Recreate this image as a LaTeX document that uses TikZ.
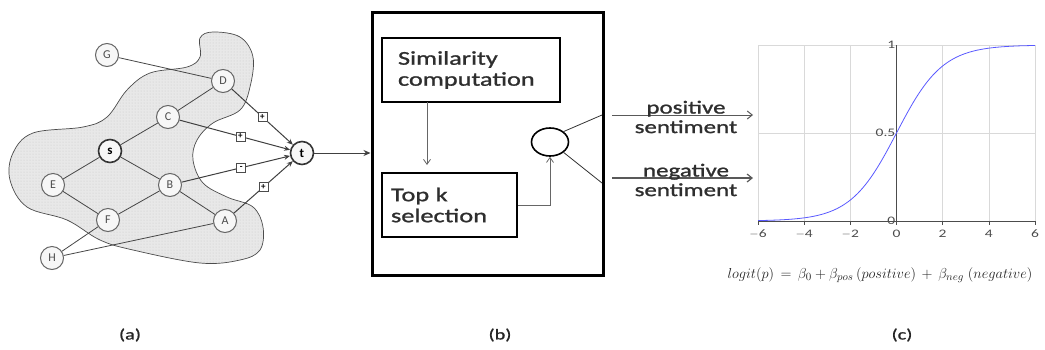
\documentclass[tikz,border=0pt]{standalone}
\usepackage{fontspec}
\setmainfont{Carlito}
\newfontfamily\widesans[FakeStretch=1.35]{Carlito}
\newfontfamily\widebold[FakeStretch=1.35,FakeBold=1.2]{Carlito}
\usetikzlibrary{arrows.meta,patterns,shapes.geometric}

\tikzset{
  vert/.style={circle, draw=gray!80!black, fill=gray!6, minimum size=23pt, inner sep=0pt,
    line width=1pt, font=\fontsize{12}{12}\selectfont, text=gray!60!black},
  keyvert/.style={vert, draw=black!80, line width=1.6pt, text=black, font=\fontsize{13}{13}\selectfont\bfseries},
  edge/.style={draw=gray!55!black, line width=0.8pt},
  toT/.style={draw=black!75, line width=1pt, -{Stealth[length=6pt,width=5pt]}},
  sign/.style={draw=black!70, fill=white, minimum size=9pt, inner sep=0pt, line width=0.6pt,
    font=\fontsize{9}{9}\selectfont\bfseries},
  stage/.style={draw=black, line width=2.6pt, inner sep=0pt, align=left,
    font=\widebold\fontsize{19.5}{21}\selectfont, text=black!82},
  flow/.style={draw=black!60, line width=0.8pt, -{Straight Barb[length=5pt,width=7pt]}},
  senti/.style={align=center, font=\widebold\fontsize{18.5}{19.5}\selectfont, text=black!82},
  grid/.style={draw=gray!30, line width=0.6pt},
  tick/.style={font=\widesans\fontsize{11.5}{11.5}\selectfont, text=black!70},
  caption/.style={font=\widebold\fontsize{15}{15}\selectfont, text=black!85}
}

\begin{document}
\begin{tikzpicture}[x=1pt,y=-1pt]
\useasboundingbox (0,0) rectangle (1045,349);

% ---------- (a) graph over a shaded region ----------
\def\blob{(200,38) (213,32) (240,37) (253,57) (250,87) (240,110) (213,123) (197,140)
  (193,160) (203,183) (227,197) (253,207) (263,227) (260,250) (240,260) (200,263)
  (133,250) (100,240) (67,220) (27,207) (10,180) (13,153) (33,133) (83,127)
  (107,117) (127,90) (150,73) (187,67) (200,57)}
\fill[gray!18] plot[smooth cycle, tension=0.6] coordinates {\blob};
\fill[pattern=dots, pattern color=gray!45] plot[smooth cycle, tension=0.6] coordinates {\blob};
\draw[gray!60!black, line width=0.7pt] plot[smooth cycle, tension=0.6] coordinates {\blob};

\node[vert] (G) at (107,55) {G};
\node[vert] (D) at (223,81) {D};
\node[vert] (C) at (168,117) {C};
\node[keyvert] (s) at (110,151) {s};
\node[vert] (E) at (53,185) {E};
\node[vert] (B) at (170,185) {B};
\node[vert] (F) at (108,220) {F};
\node[vert] (A) at (225,221) {A};
\node[vert] (H) at (52,258) {H};
\node[keyvert] (t) at (302,153) {t};

\draw[edge] (G) -- (D);
\draw[edge] (D) -- (C);
\draw[edge] (C) -- (s);
\draw[edge] (s) -- (E);
\draw[edge] (E) -- (F);
\draw[edge] (F) -- (B);
\draw[edge] (B) -- (s);
\draw[edge] (B) -- (A);
\draw[edge] (F) -- (H);
\draw[edge] (H) -- (A);

\draw[toT] (D) -- node[sign, pos=0.5] {+} (t);
\draw[toT] (C) -- node[sign, pos=0.55] {+} (t);
\draw[toT] (B) -- node[sign, pos=0.55] {-} (t);
\draw[toT] (A) -- node[sign, pos=0.5] {+} (t);

% ---------- (b) processing block ----------
\node[draw=black, line width=3pt, minimum width=231pt, minimum height=263pt, inner sep=0pt]
  (frame) at (487.5,143.5) {};
\draw[black!75, line width=1pt, -{Stealth[length=7pt,width=6pt]}] (t) -- (t -| frame.west);

\node[stage, minimum width=178pt, minimum height=64pt, text width=146pt] (sim) at (471,70)
  {Similarity\\computation};
\node[stage, minimum width=135pt, minimum height=64pt, text width=117pt] (topk) at (449.5,205)
  {Top k\\selection};
\node[ellipse, draw=black, line width=1.6pt, minimum width=37pt, minimum height=28pt, inner sep=0pt]
  (comb) at (550,142) {};

\coordinate (simout) at (427,102);
\coordinate (topkin) at (427,165);
\draw[flow] (simout) -- (topkin);
\coordinate (bend) at (550,205);
\draw[flow] (topk.east |- bend) -- (bend) -- (comb.south);

\coordinate (posend) at (602,115);
\coordinate (negend) at (602,183);
\draw[black!80, line width=0.8pt] (comb.north east) -- (posend);
\draw[black!80, line width=0.8pt] (comb.south east) -- (negend);

% ---------- sentiment outputs ----------
\coordinate (posa) at (612,115);
\coordinate (posb) at (753,115);
\coordinate (nega) at (612,178);
\coordinate (negb) at (753,178);
\draw[black!65, line width=1pt, -{Straight Barb[length=5pt,width=8pt]}] (posa) -- (posb);
\draw[black!65, line width=1.2pt, -{Straight Barb[length=5pt,width=8pt]}] (nega) -- (negb);
\node[senti] (poslbl) at (686,117) {positive\\sentiment};
\node[senti] (neglbl) at (686,180) {negative\\sentiment};

% ---------- (c) logistic curve ----------
\begin{scope}[shift={(896.5pt,-221pt)}, x=23.08pt, y=176pt]
  \foreach \u in {-4,-2,2,4} \draw[grid] (\u,0) -- (\u,1);
  \draw[grid] (-6,0.5) -- (6,0.5);
  \draw[grid] (-6,0) rectangle (6,1);
  \draw[black!70, line width=0.7pt] (-6,0) -- (6,0);
  \draw[black!70, line width=0.7pt] (0,0) -- (0,1);
  \foreach \u in {-6,-4,-2,0,2,4,6} {
    \draw[black!70, line width=0.6pt] (\u,0) -- (\u,-0.02);
    \node[tick, anchor=north] at (\u,-0.03) {\ifnum\u<0 $-$\the\numexpr-\u\relax\else\u\fi};
  }
  \node[tick, anchor=east, inner sep=1pt] at (0,1) {1};
  \node[tick, anchor=east, inner sep=1pt] at (0,0.5) {0.5};
  \node[tick, anchor=east, inner sep=1pt] at (0,0) {0};
  \draw[blue!65, line width=0.8pt, domain=-6:6, samples=120, smooth]
    plot (\x, {1/(1+exp(-\x))});
\end{scope}

\node[font=\fontsize{15.8}{15.8}\selectfont, text=black!85] (formula) at (880,275)
  {$logit(p)\,=\,\beta_0+\beta_{pos}\,(positive)\,+\,\beta_{neg}\;(negative)$};

% ---------- panel captions ----------
\node[caption] (capa) at (130,335) {(a)};
\node[caption] (capb) at (500,335) {(b)};
\node[caption] (capc) at (902,335) {(c)};
\end{tikzpicture}
\end{document}
